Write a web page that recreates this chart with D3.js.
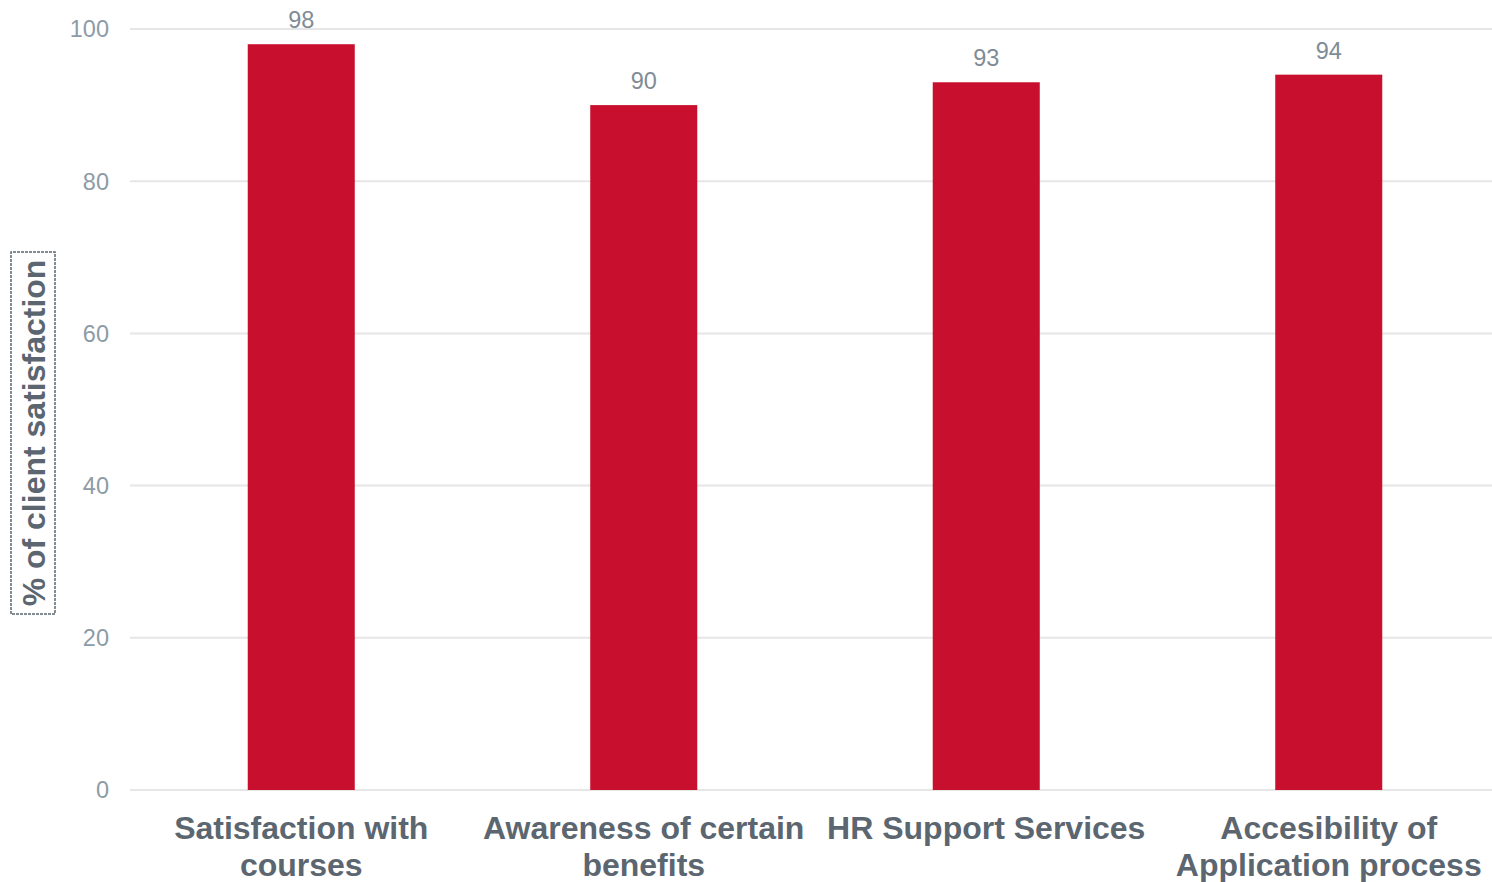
<!DOCTYPE html>
<html>
<head>
<meta charset="utf-8">
<script src="https://cdn.jsdelivr.net/npm/d3@7"></script>
<style>
  body { margin: 0; background: #fff; }
  svg { display: block; font-family: "Liberation Sans", Arial, sans-serif; }
</style>
</head>
<body>
<svg id="chart"></svg>
<script>
// data
var categories = [["Satisfaction with", "courses"], ["Awareness of certain", "benefits"], ["HR Support Services"], ["Accesibility of", "Application process"]];
var values = [98, 90, 93, 94];
var yTicks = [0, 20, 40, 60, 80, 100];

var width = 1492, height = 882;
var svg = d3.select("#chart").attr("width", width).attr("height", height);

var plotLeft = 130, plotTop = 29, plotBottom = 790;

var x = d3.scaleBand()
  .domain(d3.range(values.length))
  .range([plotLeft, 1500])
  .padding(0);
var barW = x.bandwidth() * 0.3125;

var y = d3.scaleLinear().domain([0, 100]).range([plotBottom, plotTop]);

// grid
svg.append("g").selectAll("line")
  .data(yTicks)
  .enter().append("line")
  .attr("x1", plotLeft).attr("x2", width)
  .attr("y1", function(d) { return y(d); })
  .attr("y2", function(d) { return y(d); })
  .attr("stroke", "#e6e6e6")
  .attr("stroke-width", 2);

// y tick labels
svg.append("g").selectAll("text")
  .data(yTicks)
  .enter().append("text")
  .attr("x", 109)
  .attr("y", function(d) { return y(d); })
  .attr("dy", "0.36em")
  .attr("text-anchor", "end")
  .attr("font-size", 23.5)
  .attr("fill", "#8d9ba6")
  .text(function(d) { return d; });

// bars
svg.append("g").selectAll("rect")
  .data(values)
  .enter().append("rect")
  .attr("x", function(d, i) { return x(i) + x.bandwidth() / 2 - barW / 2; })
  .attr("y", function(d) { return y(d); })
  .attr("width", barW)
  .attr("height", function(d) { return y(0) - y(d); })
  .attr("fill", "#c8102e");

// value labels
svg.append("g").selectAll("text")
  .data(values)
  .enter().append("text")
  .attr("x", function(d, i) { return x(i) + x.bandwidth() / 2; })
  .attr("y", function(d) { return y(d) - 16; })
  .attr("text-anchor", "middle")
  .attr("font-size", 23.5)
  .attr("fill", "#7f8c96")
  .text(function(d) { return d; });

// category labels
var cat = svg.append("g").selectAll("text")
  .data(categories)
  .enter().append("text")
  .attr("x", function(d, i) { return x(i) + x.bandwidth() / 2; })
  .attr("y", 839)
  .attr("text-anchor", "middle")
  .attr("font-size", 32)
  .attr("font-weight", "bold")
  .attr("fill", "#5b6670");
cat.selectAll("tspan")
  .data(function(d) { return d; })
  .enter().append("tspan")
  .attr("x", function() { return d3.select(this.parentNode).attr("x"); })
  .attr("dy", function(d, i) { return i ? 37 : 0; })
  .text(function(d) { return d; });

// y title with dashed box
var tg = svg.append("g").attr("transform", "translate(33,433) rotate(-90)");
tg.append("rect")
  .attr("x", -181).attr("y", -22)
  .attr("width", 362).attr("height", 44)
  .attr("fill", "none")
  .attr("stroke", "#5b6670")
  .attr("stroke-width", 1.5)
  .attr("stroke-dasharray", "3,1");
tg.append("text")
  .attr("text-anchor", "middle")
  .attr("dy", "0.36em")
  .attr("font-size", 32)
  .attr("font-weight", "bold")
  .attr("fill", "#5b6670")
  .text("% of client satisfaction");
</script>
</body>
</html>
